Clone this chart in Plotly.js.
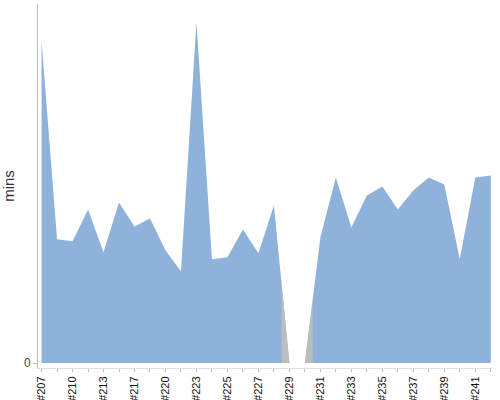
<!DOCTYPE html>
<html>
<head>
<meta charset="utf-8">
<script src="https://cdn.plot.ly/plotly-3.0.1.min.js"></script>
<style>
  html, body { margin: 0; padding: 0; background: #fff; }
  #chart { width: 500px; height: 400px; }
</style>
</head>
<body>
<div id="chart"></div>
<script>
const builds = [
  "#207", "#209", "#210", "#212", "#213", "#215", "#217", "#219", "#220", "#222",
  "#223", "#224", "#225", "#226", "#227", "#228", "#229", "#230", "#231", "#232",
  "#233", "#234", "#235", "#236", "#237", "#238", "#239", "#240", "#241", "#242"
];
const minutes = [
  323, 124, 122, 154, 111, 161, 137, 145, 113, 92,
  342, 104, 106, 134, 110, 158, 0, 0, 126, 186,
  136, 168, 177, 154, 173, 186, 179, 104, 186, 188
];
const labelEvery = 2;

const blue = "#8fb2db";
const grey = "#bdbdbd";
const xRange = [-0.23, 29.08];

const idx = builds.map((_, i) => i);
const tickVals = idx.filter(i => i % labelEvery === 0);
const tickText = tickVals.map(i => builds[i]);

// builds with no time get a grey band instead of blue
const empty = idx.filter(i => !minutes[i]);
const bandLo = Math.min(...empty) - 0.5;
const bandHi = Math.max(...empty) + 0.5;
const toFrac = v => (v - xRange[0]) / (xRange[1] - xRange[0]);

const traces = [
  {
    x: idx,
    y: minutes,
    type: "scatter",
    mode: "lines",
    fill: "tozeroy",
    fillcolor: blue,
    line: { color: blue, width: 0 },
    hoverinfo: "skip",
  },
  {
    x: idx,
    y: minutes,
    xaxis: "x2",
    type: "scatter",
    mode: "lines",
    fill: "tozeroy",
    fillcolor: grey,
    line: { color: grey, width: 0 },
    hoverinfo: "skip",
  },
];

const layout = {
  width: 500,
  height: 400,
  margin: { l: 38, r: 8, t: 4, b: 32 },
  paper_bgcolor: "#fff",
  plot_bgcolor: "rgba(0,0,0,0)",
  showlegend: false,
  font: { family: "Liberation Sans, Arial, sans-serif", size: 11, color: "#222" },
  xaxis: {
    range: xRange,
    tickmode: "array",
    tickvals: tickVals,
    ticktext: tickText,
    tickangle: -90,
    ticks: "outside",
    ticklen: 3,
    tickcolor: "#bbb",
    minor: { dtick: 1, tick0: 0, ticks: "outside", ticklen: 3, tickcolor: "#bbb", showgrid: false },
    showgrid: false,
    zeroline: false,
    showline: true,
    linecolor: "#ddd",
    tickfont: { size: 11, color: "#111" },
  },
  xaxis2: {
    domain: [toFrac(bandLo), toFrac(bandHi)],
    range: [bandLo, bandHi],
    anchor: "y",
    visible: false,
    showgrid: false,
    zeroline: false,
  },
  yaxis: {
    range: [-5, 360],
    tickmode: "array",
    tickvals: [0],
    ticks: "outside",
    ticklen: 4,
    tickcolor: "#bbb",
    showgrid: false,
    zeroline: false,
    showline: true,
    linecolor: "#bbb",
    tickfont: { size: 12, color: "#444" },
    title: { text: "mins", font: { size: 15, color: "#333" }, standoff: 8 },
  },
};

Plotly.newPlot("chart", traces, layout, { displayModeBar: false, staticPlot: true });
</script>
</body>
</html>
